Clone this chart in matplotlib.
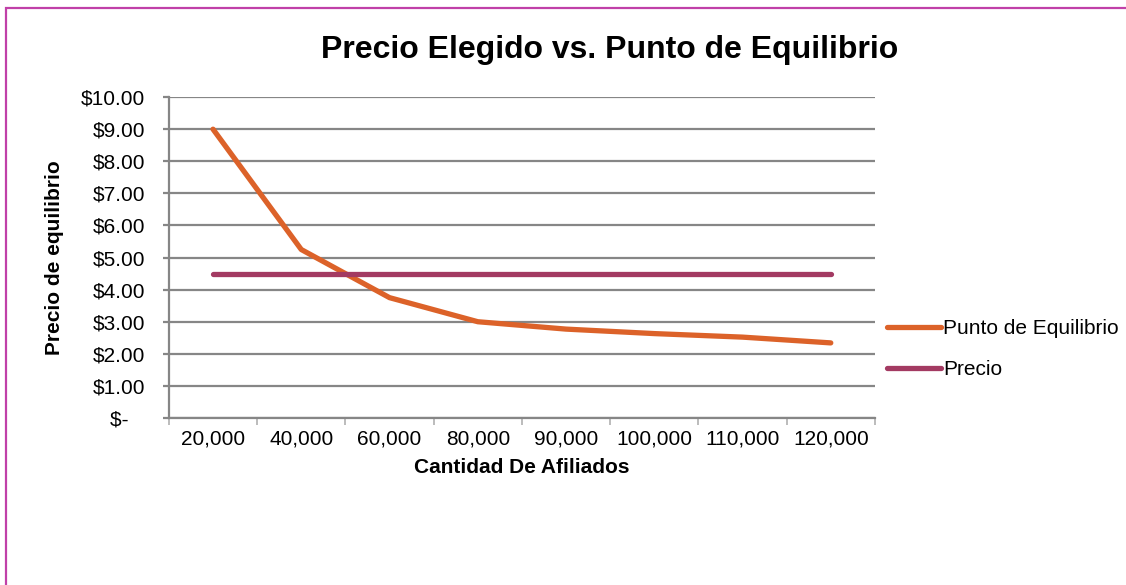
import matplotlib
matplotlib.use("Agg")
import matplotlib.pyplot as plt
from matplotlib.patches import Rectangle
from matplotlib.ticker import FixedLocator, FuncFormatter

plt.rcParams['font.family'] = ['Liberation Sans', 'DejaVu Sans']

# Data
afiliados = ["20,000", "40,000", "60,000", "80,000", "90,000", "100,000", "110,000", "120,000"]
punto_equilibrio = [9.00, 5.25, 3.75, 3.00, 2.77, 2.63, 2.52, 2.34]
precio = [4.50, 4.50, 4.50, 4.50, 4.50, 4.50, 4.50, 4.50]
y_ticks = [0, 1, 2, 3, 4, 5, 6, 7, 8, 9, 10]

grid_gray = "#868686"
orange = "#DC6229"
maroon = "#A33A62"

fig = plt.figure(figsize=(11.26, 5.85), dpi=100)
ax = fig.add_axes([0.150, 0.2855, 0.627, 0.5485])

x = list(range(len(afiliados)))
l1, = ax.plot(x, punto_equilibrio, color=orange, lw=3.8, solid_capstyle='round',
              solid_joinstyle='round', label="Punto de Equilibrio", zorder=3)
l2, = ax.plot(x, precio, color=maroon, lw=3.8, solid_capstyle='round',
              label="Precio", zorder=3)

ax.set_xlim(-0.5, len(afiliados) - 0.5)
ax.set_ylim(0, 10)
ax.set_yticks(y_ticks)

def money(v, pos):
    # accounting style: zero shown as a dash, padded on the right
    return "$-   " if v == 0 else f"${v:,.2f}"

ax.yaxis.set_major_formatter(FuncFormatter(money))
ax.set_xticks(x)
ax.set_xticklabels(afiliados)
ax.xaxis.set_minor_locator(FixedLocator([i - 0.5 for i in range(len(afiliados) + 1)]))

ax.tick_params(axis='x', which='major', length=0, labelsize=15, pad=8, labelcolor='black')
ax.tick_params(axis='x', which='minor', length=5, color="#b0b0b0", width=1.2)
ax.tick_params(axis='y', length=4.5, color=grid_gray, width=1.6, labelsize=15, pad=12.5)

ax.grid(axis='y', color=grid_gray, lw=1.6, zorder=1)
ax.set_axisbelow(True)
for s in ['top', 'right']:
    ax.spines[s].set_visible(False)
for s in ['left', 'bottom']:
    ax.spines[s].set_color(grid_gray)
    ax.spines[s].set_linewidth(1.6)

ax.set_xlabel("Cantidad De Afiliados", fontsize=15, fontweight='bold', labelpad=7)
ax.set_ylabel("Precio de equilibrio", fontsize=15, fontweight='bold', labelpad=12)

fig.text(0.541, 0.914, "Precio Elegido vs. Punto de Equilibrio", fontsize=23,
         fontweight='bold', ha='center', va='center')

fig.legend(handles=[l1, l2], loc='center left', bbox_to_anchor=(0.780, 0.403),
           frameon=False, fontsize=15, handlelength=2.6, handletextpad=0.12,
           labelspacing=1.05, borderaxespad=0)

fig.add_artist(Rectangle((0.0053, -0.2), 1.5, 0.9863 + 0.2, transform=fig.transFigure,
                         fill=False, edgecolor="#C040A8", lw=1.6))

fig.savefig("out.png", dpi=100, facecolor='white')
